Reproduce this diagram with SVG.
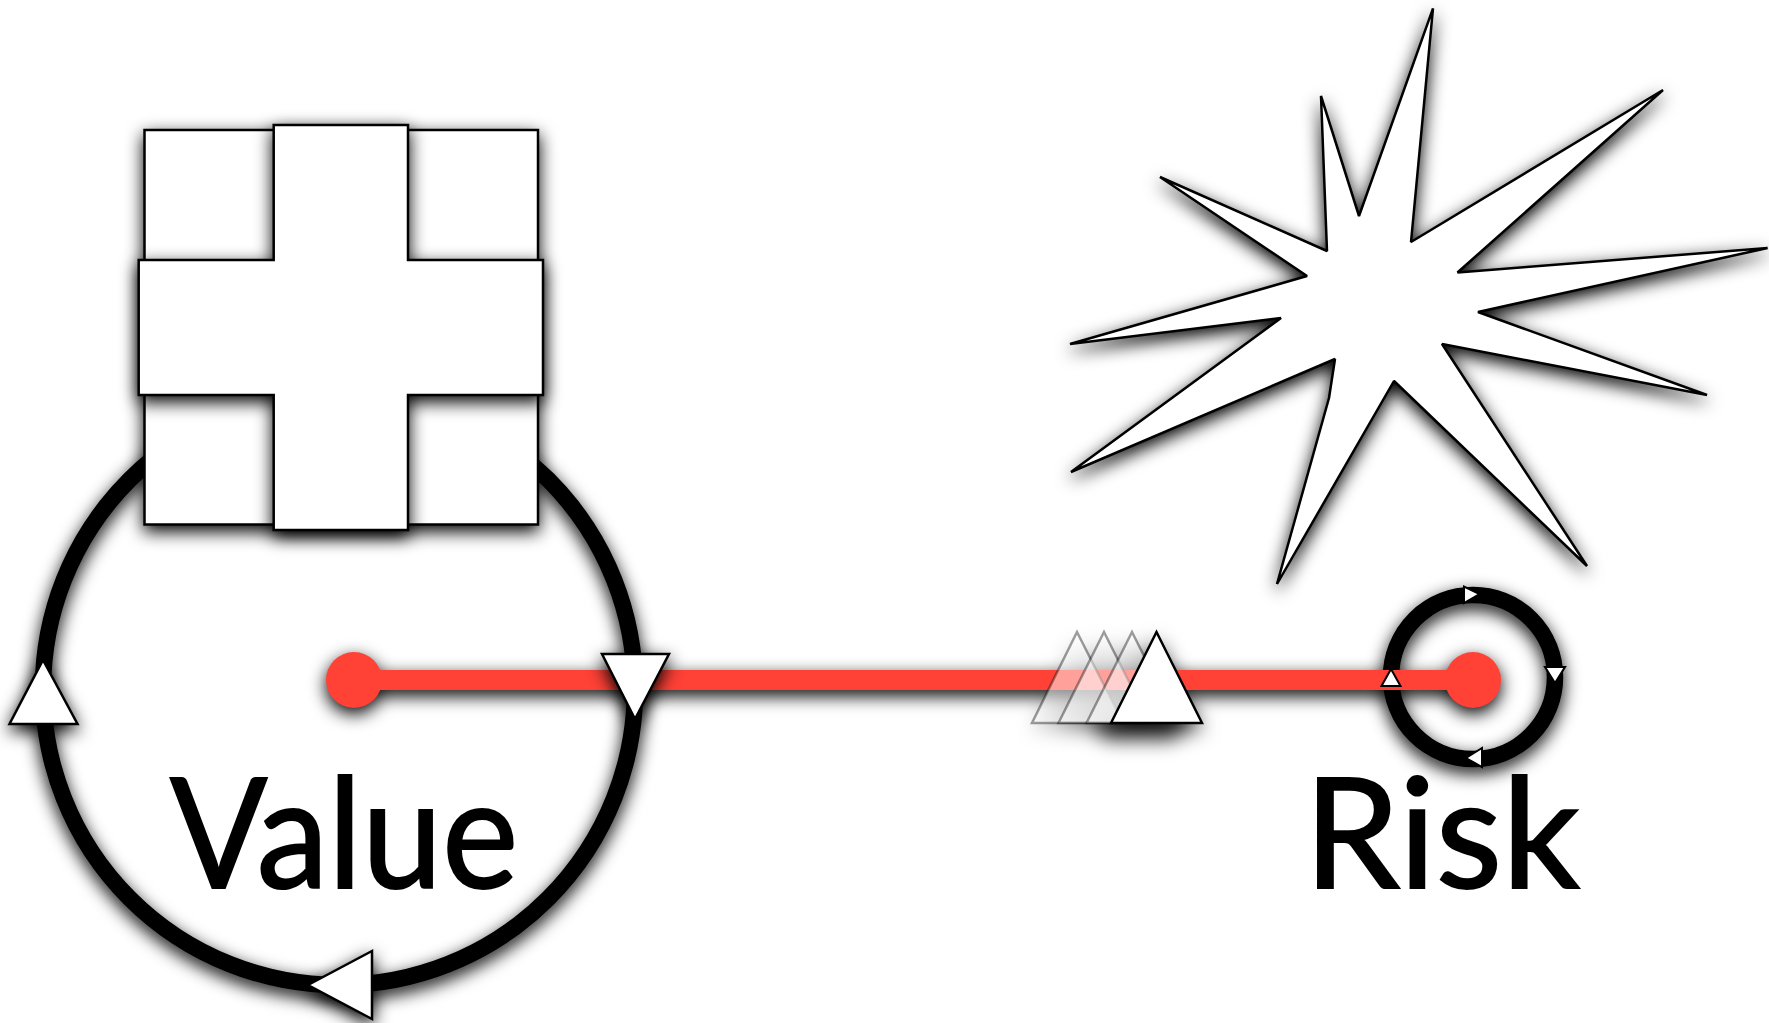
<svg xmlns="http://www.w3.org/2000/svg" width="1769" height="1023" viewBox="0 0 1769 1023">
<defs>
<filter id="sh" filterUnits="userSpaceOnUse" x="-30" y="-30" width="1829" height="1083" color-interpolation-filters="sRGB">
<feGaussianBlur in="SourceAlpha" stdDeviation="8.500" result="b"/>
<feOffset in="b" dx="0" dy="6" result="o"/>
<feMerge><feMergeNode in="o"/><feMergeNode in="SourceGraphic"/></feMerge>
</filter>
<filter id="blob" filterUnits="userSpaceOnUse" x="960" y="590" width="320" height="220" color-interpolation-filters="sRGB">
<feGaussianBlur stdDeviation="10"/>
</filter>
</defs>
<style>
.box{fill:#fff;stroke:#000;stroke-width:2.5;filter:url(#sh)}
.ring{fill:none;stroke:#000;filter:url(#sh)}
.tri{fill:#fff;stroke:#000;stroke-width:2.5;stroke-linejoin:miter}
.stri{fill:#fff;stroke:#000;stroke-width:2}
.ghost{fill:#fff;fill-opacity:.5;stroke:#000;stroke-opacity:.38;stroke-width:2.5}
.dot{fill:#ff4136}
.lab{font-family:"Lato","Noto Sans",sans-serif;font-size:153px;fill:#000;stroke:#000;stroke-width:2}
</style>
<rect width="1769" height="1023" fill="#fff"/>
<g id="slider-shadow" filter="url(#blob)">
<polygon points="1077,640 1123,730 1032,730" opacity=".2"/>
<polygon points="1104,640 1149.500,730 1058.500,730" opacity=".3"/>
<polygon points="1132,640 1177.500,730 1086.500,730" opacity=".4"/>
<polygon points="1156.500,640 1202,730 1111,730" opacity=".8"/>
<polygon points="1090,722 1190,722 1175,738 1105,738"/>
</g>
<g id="connectors">
<circle id="value-loop" class="ring" cx="339" cy="689" r="296" stroke-width="16.500"/>
<circle id="risk-loop" class="ring" cx="1473" cy="677" r="82" stroke-width="16.500"/>
<g filter="url(#sh)">
<line x1="354" y1="680" x2="1473" y2="680" stroke="#ff4136" stroke-width="20"/>
<circle class="dot" cx="354" cy="680" r="28"/>
<circle class="dot" cx="1473" cy="680" r="28"/>
</g>
</g>
<g id="value-box">
<rect class="box" x="144.500" y="130" width="393.500" height="394.500"/>
<polygon class="box" points="273.700,125 408,125 408,260 543,260 543,395 408,395 408,530 273.700,530 273.700,395 138.700,395 138.700,260 273.700,260"/>
</g>
<g id="value-arrows">
<polygon class="tri" points="43,660 77.500,724 9.500,724" filter="url(#sh)"/>
<polygon class="tri" points="602,654 669,654 635,719" filter="url(#sh)"/>
<polygon class="tri" points="308,985 372,951 372,1019" filter="url(#sh)"/>
</g>
<g id="risk-arrows">
<polygon class="stri" points="1391,669 1400.500,686 1381.500,686"/>
<polygon class="stri" points="1545,667 1565,667 1555,683"/>
<polygon class="stri" points="1479.500,594 1464,586.700 1464,603"/>
<polygon class="stri" points="1466,758 1482,748 1482,767"/>
</g>
<g id="slider">
<polygon class="ghost" points="1077,632 1123,723 1032,723"/>
<polygon class="ghost" points="1104,632 1149.500,723 1058.500,723"/>
<polygon class="ghost" points="1132,632 1177.500,723 1086.500,723"/>
<polygon class="tri" points="1156.500,632 1202,723 1111,723"/>
</g>
<g id="star">
<polygon class="box" stroke-linejoin="bevel" points="1433,8.400 1411,242 1663,90 1457.500,272.500 1767.600,248 1478,312 1707,395 1442,344 1587,566 1394,381 1277,584 1329,398 1335,359 1071,472 1281,318 1070,344 1307,276 1160,177 1327,251 1321,96 1359,216"/>
</g>
<g id="value-label"><text class="lab" x="170" y="888" textLength="348" lengthAdjust="spacingAndGlyphs">Value</text></g>
<g id="risk-label"><text class="lab" x="1304" y="888" textLength="276" lengthAdjust="spacingAndGlyphs">Risk</text></g>
</svg>
